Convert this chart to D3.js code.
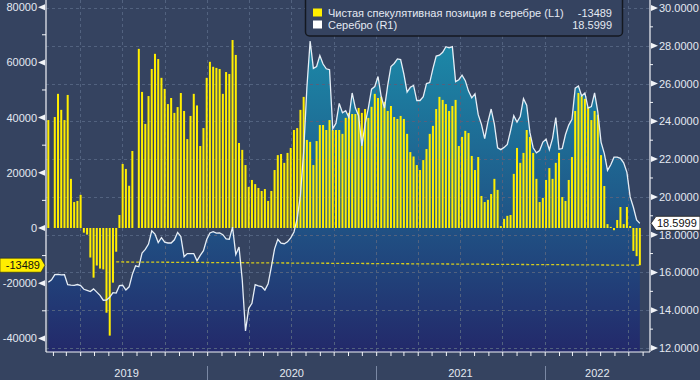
<!DOCTYPE html>
<html><head><meta charset="utf-8">
<script src="https://cdn.jsdelivr.net/npm/d3@7"></script>
<style>
html,body{margin:0;padding:0;background:#354360;}
svg{display:block;font-family:"Liberation Sans",Arial,sans-serif;}
</style></head>
<body><svg id="c" width="700" height="380"></svg>
<script>
// ---- data ----
const firstWeek = new Date(2019, 0, 22);
const weeks = d3.timeTuesday.range(firstWeek, new Date(2022, 6, 27));
const positioning = [
39100,null,40200,48600,42800,39100,48200,17800,9400,9800,12000,-1700,-2400,-10700,-18000,-13600,-14700,-15000,-30700,-39000,-19800,-8600,4700,23200,21400,15300,27900,
null,64900,49300,37700,47800,57600,63100,61200,54400,50400,44900,47100,41700,43800,48900,42400,32200,40600,48600,44400,29700,36200,54400,60200,58400,58000,57600,48600,56500,55800,68100,62700,30800,
28300,22800,14900,17400,15900,14500,13400,14100,9800,13400,21000,26400,26800,23600,27200,29000,35500,36200,42800,47500,31900,31200,22800,31500,37300,37300,35500,39100,35500,35500,35500,34100,39900,41700,41300,41300,43500,41700,43100,39900,
43900,48600,47100,47500,45700,42400,44200,40200,39500,40600,39500,34100,27500,25900,22800,21000,24600,28600,34100,
37000,43100,47500,46400,44900,42400,44200,46400,29700,33000,35200,34400,26100,21000,25700,11600,9400,10200,12300,17800,13800,700,3300,4400,4700,19600,29000,23600,27200,35500,33000,27200,17800,9400,10900,17400,21700,17800,23600,27200,11200,9800,17400,25700,42400,48900,47800,46800,43900,39100,42400,41000,26400,15200,1400,400,-800,2900,7600,1400,7600,700,-8300,-10200,-13489
];
const silver = [
15.48,15.61,15.88,15.90,15.87,15.88,15.35,15.33,15.32,15.36,15.30,15.11,15.05,14.99,15.13,14.96,14.79,14.53,14.54,14.69,14.93,14.91,15.30,15.32,15.07,15.24,15.90,16.35,16.30,17.03,
17.22,17.50,18.20,18.03,17.58,17.84,17.60,17.56,17.56,17.73,18.12,17.90,16.84,17.00,17.00,17.00,16.62,16.90,17.15,17.74,18.09,18.16,18.08,18.09,18.00,17.78,17.76,18.40,16.95,17.35,
15.60,12.90,14.10,14.37,15.35,15.29,15.25,15.07,15.40,16.30,17.25,17.75,17.55,17.52,17.62,17.83,18.14,18.85,20.10,22.40,25.80,28.25,26.80,26.90,27.48,27.03,26.78,26.73,23.60,23.90,
24.95,24.45,24.56,24.20,25.50,24.70,24.30,22.70,23.85,24.70,25.70,25.84,26.37,25.30,24.70,25.90,26.90,27.06,27.30,27.27,26.50,25.55,25.80,25.90,25.10,25.10,25.30,26.00,26.05,26.80,
27.45,27.50,27.65,27.95,27.89,27.95,26.10,26.20,26.44,26.15,25.60,25.24,25.45,24.35,23.84,23.08,23.97,24.65,23.85,22.60,22.50,22.62,22.78,23.50,24.30,23.96,24.25,25.20,24.85,23.40,
22.60,22.33,22.45,22.90,23.05,22.50,23.10,24.20,22.52,22.56,23.30,23.80,24.10,25.75,25.87,25.34,25.50,24.70,24.78,25.50,24.50,22.90,22.30,21.40,21.70,22.10,22.10,22.04,21.80,21.30,
20.00,19.45,18.78,18.5999
];
const leftTicks = [-40000, -20000, 0, 20000, 40000, 60000, 80000];
const rightTicks = [12, 14, 16, 18, 20, 22, 24, 26, 28, 30];
const years = [2019, 2020, 2021, 2022];
const refLine = [{date: new Date(2019, 5, 18), value: -12300}, {date: new Date(2022, 6, 26), value: -13489}];
const legendItems = [
  {label: "Чистая спекулятивная позиция в серебре (L1)", value: "-13489", color: "#ffee00"},
  {label: "Серебро (R1)", value: "18.5999", color: "#ffffff"}
];

// ---- layout ----
const svg = d3.select("#c");
const L = 46, R = 650, T = 0, B = 352;
const x = d3.scaleTime().domain([new Date(2019, 0, 17), new Date(2022, 7, 17)]).range([L, R]);
const yL = d3.scaleLinear().domain([-44930, 82600]).range([B, T]);
const yR = d3.scaleLinear().domain([11.79, 30.42]).range([B, T]);
const textCol = "#e4e9f2";

const defs = svg.append("defs");
const g = defs.append("linearGradient").attr("id", "ag").attr("gradientUnits", "userSpaceOnUse")
  .attr("x1", 0).attr("y1", 0).attr("x2", 0).attr("y2", B);
[[0, "#1a93b2"], [0.15, "#1c86a6"], [0.55, "#1f5c8b"], [1, "#23296a"]].forEach(s =>
  g.append("stop").attr("offset", s[0]).attr("stop-color", s[1]));
defs.append("clipPath").attr("id", "pc").append("rect").attr("x", L).attr("y", T).attr("width", R - L).attr("height", B - T);

const silverData = weeks.map((d, i) => ({date: d, v: silver[i]}));
const barData = weeks.map((d, i) => ({date: d, v: positioning[i]})).filter(d => d.v !== null);

const plot = svg.append("g").attr("clip-path", "url(#pc)");
// area
plot.append("path").datum(silverData)
  .attr("d", d3.area().x(d => x(d.date)).y0(B).y1(d => yR(d.v)).curve(d3.curveLinear))
  .attr("fill", "url(#ag)");

// grid
const grid = plot.append("g").attr("stroke", "#52627f").attr("stroke-dasharray", "3,3").attr("stroke-width", 1);
rightTicks.forEach(t => grid.append("line").attr("x1", L).attr("x2", R).attr("y1", Math.round(yR(t)) + 0.5).attr("y2", Math.round(yR(t)) + 0.5));
d3.timeMonth.every(3).range(x.domain()[0], x.domain()[1]).forEach(d =>
  grid.append("line").attr("x1", Math.round(x(d)) + 0.5).attr("x2", Math.round(x(d)) + 0.5).attr("y1", T).attr("y2", B));

// bars
plot.append("g").selectAll("rect").data(barData).join("rect")
  .attr("x", d => x(d.date) - 1)
  .attr("width", 2)
  .attr("y", d => Math.min(yL(d.v), yL(0)))
  .attr("height", d => Math.abs(yL(d.v) - yL(0)))
  .attr("fill", "#ffee00");

// reference dashed line
plot.append("path").datum(refLine)
  .attr("d", d3.line().x(d => x(d.date)).y(d => yL(d.value)))
  .attr("stroke", "#d6cc1c").attr("stroke-width", 1.3).attr("stroke-dasharray", "3,2").attr("fill", "none");

// silver line
plot.append("path").datum(silverData)
  .attr("d", d3.line().x(d => x(d.date)).y(d => yR(d.v)))
  .attr("stroke", "#e6eef6").attr("stroke-width", 1.3).attr("fill", "none");

// axes frame
const ax = svg.append("g").attr("stroke", "#f2f4f8").attr("stroke-width", 1.2);
ax.append("line").attr("x1", L).attr("x2", L).attr("y1", T).attr("y2", B);
ax.append("line").attr("x1", R).attr("x2", R).attr("y1", T).attr("y2", B);
ax.append("line").attr("x1", L).attr("x2", R).attr("y1", B).attr("y2", B);

// left axis
const la = svg.append("g").attr("transform", `translate(${L},0)`)
  .call(d3.axisLeft(yL).tickValues(leftTicks).tickSize(0).tickPadding(9).tickFormat(d => String(d)));
la.select(".domain").remove();
la.selectAll("text").attr("fill", textCol).attr("font-size", 11).attr("font-family", "Liberation Sans, Arial, sans-serif");
leftTicks.forEach(t => {
  const yy = yL(t);
  svg.append("path").attr("d", `M${L - 8},${yy} L${L - 1},${yy - 3} L${L - 1},${yy + 3} Z`).attr("fill", "#f2f4f8");
});
d3.range(-40000, 80001, 10000).filter(v => !leftTicks.includes(v)).forEach(v =>
  svg.append("line").attr("x1", L - 4).attr("x2", L).attr("y1", yL(v)).attr("y2", yL(v)).attr("stroke", "#f2f4f8"));

// right axis
const ra = svg.append("g").attr("transform", `translate(${R},0)`)
  .call(d3.axisRight(yR).tickValues(rightTicks).tickSize(0).tickPadding(9).tickFormat(d3.format(".4f")));
ra.select(".domain").remove();
ra.selectAll("text").attr("fill", textCol).attr("font-size", 11).attr("font-family", "Liberation Sans, Arial, sans-serif");
rightTicks.forEach(t => {
  const yy = yR(t);
  svg.append("path").attr("d", `M${R + 8},${yy} L${R + 1},${yy - 3} L${R + 1},${yy + 3} Z`).attr("fill", "#f2f4f8");
});
d3.range(13, 30, 2).forEach(v =>
  svg.append("line").attr("x1", R).attr("x2", R + 3).attr("y1", yR(v)).attr("y2", yR(v)).attr("stroke", "#f2f4f8"));

// bottom axis: monthly ticks
const ba = svg.append("g").attr("transform", `translate(0,${B})`)
  .call(d3.axisBottom(x).ticks(d3.timeMonth.every(1)).tickSize(4).tickFormat(""));
ba.select(".domain").remove();
ba.selectAll("line").attr("stroke", "#f2f4f8");
years.forEach(yv => {
  const s = Math.max(L, x(new Date(yv, 0, 1)));
  const e = Math.min(R, x(new Date(yv + 1, 0, 1)));
  svg.append("text").attr("x", (s + e) / 2).attr("y", 377).attr("text-anchor", "middle")
    .attr("fill", textCol).attr("font-size", 11).text(yv);
  if (yv > years[0]) {
    svg.append("line").attr("x1", Math.round(x(new Date(yv, 0, 1))) + 0.5).attr("x2", Math.round(x(new Date(yv, 0, 1))) + 0.5)
      .attr("y1", 366).attr("y2", 380).attr("stroke", "#7a88a4").attr("stroke-width", 1);
  }
});

// last value tags
const lastPos = positioning[positioning.length - 1];
const ly = yL(lastPos);
svg.append("path").attr("d", `M0,${ly - 7} L41,${ly - 7} L45,${ly} L41,${ly + 7} L0,${ly + 7} Z`)
  .attr("fill", "#ffee00").attr("stroke", "#2a2a10").attr("stroke-width", 0.6);
svg.append("text").attr("x", 40).attr("y", ly + 4).attr("text-anchor", "end").attr("font-size", 11).attr("fill", "#111").text(String(lastPos));
const lastSil = silver[silver.length - 1];
const ry = yR(lastSil);
svg.append("path").attr("d", `M651,${ry} L656,${ry - 7} L700,${ry - 7} L700,${ry + 7} L656,${ry + 7} Z`)
  .attr("fill", "#ffffff").attr("stroke", "#1a1a1a").attr("stroke-width", 0.8);
svg.append("text").attr("x", 657).attr("y", ry + 4).attr("font-size", 11).attr("fill", "#111").text(d3.format(".4f")(lastSil));

// legend
const lg = svg.append("g");
lg.append("rect").attr("x", 305.5).attr("y", -6).attr("width", 317).attr("height", 42).attr("rx", 4)
  .attr("fill", "#354360").attr("stroke", "#141820").attr("stroke-width", 1.5);
legendItems.forEach((it, i) => {
  const yy = 8.5 + i * 12;
  lg.append("rect").attr("x", 313).attr("y", yy).attr("width", 9).attr("height", 8).attr("fill", it.color);
  lg.append("text").attr("x", 328).attr("y", yy + 8).attr("font-size", 11).attr("fill", textCol).text(it.label);
  lg.append("text").attr("x", 612).attr("y", yy + 8).attr("font-size", 11).attr("text-anchor", "end").attr("fill", textCol).text(it.value);
});
</script></body></html>
